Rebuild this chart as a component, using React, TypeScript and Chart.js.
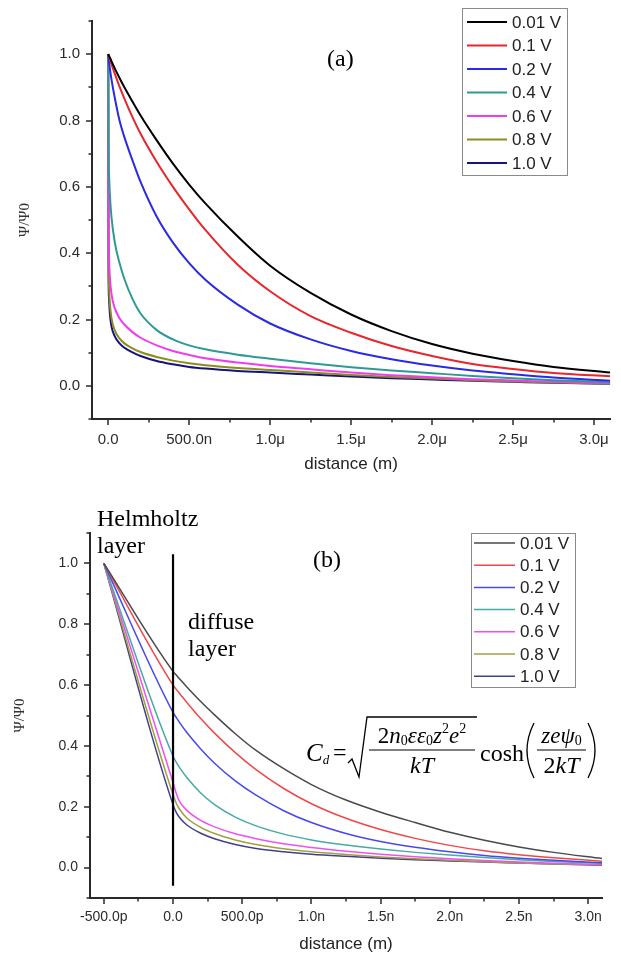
import React, { useEffect, useRef } from 'react';
import { Chart, registerables } from 'chart.js';

Chart.register(...registerables);

const seriesLabels = ['0.01 V', '0.1 V', '0.2 V', '0.4 V', '0.6 V', '0.8 V', '1.0 V'];
const colorsA = ['#000000', '#e8262b', '#2a2ae6', '#2e9a94', '#f03cf0', '#8c8c22', '#14147a'];
const colorsB = ['#4a4a4a', '#f04848', '#4848f0', '#48aaa4', '#f050f0', '#a0a040', '#40408c'];

// ---- Panel (a): distance in micrometres ----
const distanceA = [0, 0.002, 0.005, 0.01, 0.02, 0.04, 0.07, 0.1, 0.15, 0.2, 0.3, 0.4, 0.5, 0.6, 0.8, 1.0, 1.25, 1.5, 1.75, 2.0, 2.25, 2.5, 2.75, 3.1];
const psiA_001 = [1, 0.998, 0.995, 0.99, 0.979, 0.958, 0.928, 0.9, 0.857, 0.815, 0.74, 0.67, 0.607, 0.55, 0.45, 0.362, 0.28, 0.215, 0.165, 0.126, 0.097, 0.075, 0.057, 0.04];
const psiA_01 = [1, 0.997, 0.992, 0.985, 0.97, 0.942, 0.902, 0.866, 0.81, 0.76, 0.675, 0.6, 0.532, 0.47, 0.365, 0.285, 0.21, 0.16, 0.12, 0.09, 0.066, 0.051, 0.039, 0.029];
const psiA_02 = [1, 0.99, 0.976, 0.958, 0.925, 0.87, 0.8, 0.75, 0.68, 0.615, 0.51, 0.432, 0.37, 0.32, 0.245, 0.188, 0.14, 0.105, 0.08, 0.061, 0.046, 0.035, 0.025, 0.015];
const psiA_04 = [1, 0.7, 0.64, 0.58, 0.51, 0.435, 0.37, 0.322, 0.262, 0.218, 0.168, 0.14, 0.122, 0.11, 0.094, 0.082, 0.068, 0.056, 0.046, 0.038, 0.03, 0.023, 0.017, 0.011];
const psiA_06 = [1, 0.5, 0.39, 0.33, 0.278, 0.235, 0.204, 0.185, 0.162, 0.145, 0.122, 0.105, 0.093, 0.083, 0.07, 0.06, 0.05, 0.04, 0.032, 0.026, 0.02, 0.016, 0.012, 0.008];
const psiA_08 = [1, 0.4, 0.3, 0.25, 0.205, 0.168, 0.143, 0.128, 0.113, 0.102, 0.087, 0.076, 0.068, 0.062, 0.054, 0.048, 0.04, 0.033, 0.027, 0.022, 0.017, 0.013, 0.01, 0.007];
const psiA_10 = [1, 0.35, 0.265, 0.22, 0.18, 0.15, 0.128, 0.115, 0.101, 0.09, 0.075, 0.065, 0.057, 0.052, 0.045, 0.04, 0.034, 0.028, 0.023, 0.019, 0.015, 0.012, 0.009, 0.006];

const xMajorA = [0, 0.5, 1.0, 1.5, 2.0, 2.5, 3.0];
const xTickLabelsA = ['0.0', '500.0n', '1.0μ', '1.5μ', '2.0μ', '2.5μ', '3.0μ'];
const xMinorA = [0.25, 0.75, 1.25, 1.75, 2.25, 2.75];

// ---- Panel (b): distance in nanometres ----
const distanceB = [-0.5, 0, 0.025, 0.05, 0.1, 0.2, 0.3, 0.45, 0.6, 0.8, 1.0, 1.25, 1.5, 1.75, 2.0, 2.25, 2.5, 2.75, 3.1];
const psiB_001 = [1, 0.645, 0.632, 0.619, 0.594, 0.546, 0.502, 0.44, 0.385, 0.325, 0.273, 0.222, 0.182, 0.148, 0.116, 0.09, 0.068, 0.05, 0.03];
const psiB_01 = [1, 0.6, 0.585, 0.571, 0.543, 0.49, 0.442, 0.378, 0.322, 0.26, 0.21, 0.162, 0.125, 0.096, 0.073, 0.055, 0.042, 0.032, 0.021];
const psiB_02 = [1, 0.51, 0.492, 0.475, 0.444, 0.39, 0.343, 0.285, 0.238, 0.187, 0.148, 0.112, 0.086, 0.067, 0.052, 0.04, 0.031, 0.024, 0.016];
const psiB_04 = [1, 0.366, 0.345, 0.327, 0.296, 0.245, 0.207, 0.166, 0.137, 0.11, 0.091, 0.074, 0.061, 0.05, 0.041, 0.033, 0.026, 0.02, 0.014];
const psiB_06 = [1, 0.28, 0.242, 0.215, 0.188, 0.155, 0.134, 0.111, 0.095, 0.078, 0.066, 0.054, 0.044, 0.036, 0.029, 0.023, 0.018, 0.014, 0.01];
const psiB_08 = [1, 0.24, 0.21, 0.19, 0.163, 0.132, 0.112, 0.091, 0.076, 0.062, 0.052, 0.043, 0.035, 0.029, 0.024, 0.019, 0.015, 0.012, 0.009];
const psiB_10 = [1, 0.207, 0.18, 0.163, 0.14, 0.113, 0.095, 0.076, 0.063, 0.052, 0.044, 0.037, 0.031, 0.026, 0.022, 0.018, 0.015, 0.012, 0.008];

const xMajorB = [-0.5, 0, 0.5, 1.0, 1.5, 2.0, 2.5, 3.0];
const xTickLabelsB = ['-500.0p', '0.0', '500.0p', '1.0n', '1.5n', '2.0n', '2.5n', '3.0n'];
const xMinorB = [-0.25, 0.25, 0.75, 1.25, 1.75, 2.25, 2.75];

// Helmholtz / diffuse boundary line
const boundaryX = [0, 0];
const boundaryY = [-0.06, 1.03];

const yMajor = [0, 0.2, 0.4, 0.6, 0.8, 1.0];
const yTickLabels = ['0.0', '0.2', '0.4', '0.6', '0.8', '1.0'];
const yMinor = [-0.1, 0.1, 0.3, 0.5, 0.7, 0.9, 1.1];

const seriesA = [psiA_001, psiA_01, psiA_02, psiA_04, psiA_06, psiA_08, psiA_10];
const seriesB = [psiB_001, psiB_01, psiB_02, psiB_04, psiB_06, psiB_08, psiB_10];

const SANS = '"Liberation Sans", Arial, sans-serif';
const SERIF = '"Liberation Serif", "Times New Roman", serif';
const AXIS_COLOR = '#2a2a2a';

function tickMarksPlugin(xMajor: number[], xMinor: number[]) {
  return {
    id: 'tickMarks',
    afterDraw(chart: any) {
      const { ctx, chartArea: ca } = chart;
      const xs = chart.scales.x;
      const ys = chart.scales.y;
      ctx.save();
      ctx.strokeStyle = AXIS_COLOR;
      ctx.lineWidth = 1.5;
      ctx.beginPath();
      const major = 6;
      const minor = 3.5;
      xMajor.forEach((v) => {
        const p = Math.round(xs.getPixelForValue(v));
        ctx.moveTo(p, ca.bottom);
        ctx.lineTo(p, ca.bottom + major);
      });
      xMinor.forEach((v) => {
        const p = Math.round(xs.getPixelForValue(v));
        ctx.moveTo(p, ca.bottom);
        ctx.lineTo(p, ca.bottom + minor);
      });
      yMajor.forEach((v) => {
        const p = Math.round(ys.getPixelForValue(v));
        ctx.moveTo(ca.left, p);
        ctx.lineTo(ca.left - major, p);
      });
      yMinor.forEach((v) => {
        const p = Math.round(ys.getPixelForValue(v));
        ctx.moveTo(ca.left, p);
        ctx.lineTo(ca.left - minor, p);
      });
      ctx.stroke();
      ctx.restore();
    },
  };
}

function legendPlugin(box: { x: number; y: number; w: number; h: number; row0: number; gap: number; s0: number; s1: number; tx: number; lw: number }) {
  return {
    id: 'customLegend',
    afterDraw(chart: any) {
      const { ctx } = chart;
      ctx.save();
      ctx.fillStyle = '#ffffff';
      ctx.fillRect(box.x, box.y, box.w, box.h);
      ctx.strokeStyle = '#8a8a8a';
      ctx.lineWidth = 1;
      ctx.strokeRect(box.x + 0.5, box.y + 0.5, box.w, box.h);
      ctx.font = `17px ${SANS}`;
      ctx.textBaseline = 'middle';
      ctx.textAlign = 'left';
      const items = chart.data.datasets.filter((d: any) => seriesLabels.includes(d.label));
      items.forEach((d: any, i: number) => {
        const y = box.y + box.row0 + i * box.gap;
        ctx.strokeStyle = d.borderColor;
        ctx.lineWidth = box.lw;
        ctx.beginPath();
        ctx.moveTo(box.s0, y);
        ctx.lineTo(box.s1, y);
        ctx.stroke();
        ctx.fillStyle = '#222';
        ctx.fillText(d.label, box.tx, y + 1);
      });
      ctx.restore();
    },
  };
}

type Part = { t: string; italic?: boolean; size: number; dy?: number };

function runWidth(ctx: CanvasRenderingContext2D, parts: Part[]) {
  let w = 0;
  parts.forEach((p) => {
    ctx.font = `${p.italic ? 'italic ' : ''}${p.size}px ${SERIF}`;
    w += ctx.measureText(p.t).width;
  });
  return w;
}

function drawRun(ctx: CanvasRenderingContext2D, parts: Part[], x: number, y: number, center = false) {
  let cx = center ? x - runWidth(ctx, parts) / 2 : x;
  ctx.textAlign = 'left';
  ctx.textBaseline = 'alphabetic';
  parts.forEach((p) => {
    ctx.font = `${p.italic ? 'italic ' : ''}${p.size}px ${SERIF}`;
    ctx.fillText(p.t, cx, y + (p.dy || 0));
    cx += ctx.measureText(p.t).width;
  });
}

const annotationsA = {
  id: 'annotA',
  afterDraw(chart: any) {
    const { ctx } = chart;
    ctx.save();
    ctx.fillStyle = '#000';
    drawRun(ctx, [{ t: '(a)', size: 24 }], 327, 66);
    ctx.restore();
  },
};

const annotationsB = {
  id: 'annotB',
  afterDraw(chart: any) {
    const { ctx } = chart;
    ctx.save();
    ctx.fillStyle = '#000';
    ctx.strokeStyle = '#000';
    drawRun(ctx, [{ t: 'Helmholtz', size: 24 }], 97, 46);
    drawRun(ctx, [{ t: 'layer', size: 24 }], 97, 73);
    drawRun(ctx, [{ t: 'diffuse', size: 24 }], 188, 149);
    drawRun(ctx, [{ t: 'layer', size: 24 }], 188, 176);
    drawRun(ctx, [{ t: '(b)', size: 24 }], 313, 87);

    // formula
    drawRun(ctx, [{ t: 'C', italic: true, size: 25 }, { t: 'd', italic: true, size: 13, dy: 3 }], 306, 281);
    drawRun(ctx, [{ t: '=', size: 24 }], 333, 280);
    ctx.lineWidth = 1.3;
    ctx.beginPath();
    ctx.moveTo(348, 283);
    ctx.lineTo(352, 279);
    ctx.lineTo(359, 297);
    ctx.lineTo(367, 237);
    ctx.lineTo(477, 237);
    ctx.stroke();
    drawRun(
      ctx,
      [
        { t: '2', size: 23 },
        { t: 'n', italic: true, size: 23 },
        { t: '0', size: 14, dy: 2 },
        { t: 'εε', italic: true, size: 23 },
        { t: '0', size: 14, dy: 2 },
        { t: 'z', italic: true, size: 23 },
        { t: '2', size: 14, dy: -10 },
        { t: 'e', italic: true, size: 23 },
        { t: '2', size: 14, dy: -10 },
      ],
      422,
      263,
      true
    );
    ctx.lineWidth = 1.2;
    ctx.beginPath();
    ctx.moveTo(369, 270);
    ctx.lineTo(475, 270);
    ctx.moveTo(537, 270);
    ctx.lineTo(586, 270);
    ctx.stroke();
    drawRun(ctx, [{ t: 'kT', italic: true, size: 24 }], 422, 293, true);
    drawRun(ctx, [{ t: 'cosh', size: 24 }], 480, 281);
    ctx.lineWidth = 1.3;
    ctx.beginPath();
    ctx.moveTo(534, 243);
    ctx.quadraticCurveTo(520, 270.5, 534, 298);
    ctx.moveTo(588, 243);
    ctx.quadraticCurveTo(602, 270.5, 588, 298);
    ctx.stroke();
    drawRun(
      ctx,
      [
        { t: 'ze', italic: true, size: 23 },
        { t: 'ψ', italic: true, size: 23 },
        { t: '0', size: 14, dy: 2 },
      ],
      561.5,
      263,
      true
    );
    drawRun(ctx, [{ t: '2', size: 24 }, { t: 'kT', italic: true, size: 24 }], 561.5, 293, true);
    ctx.restore();
  },
};

function makeConfig(opts: {
  distance: number[];
  series: number[][];
  colors: string[];
  lineWidth: number;
  xMin: number;
  xMax: number;
  xMajor: number[];
  xLabels: string[];
  xMinor: number[];
  padding: { left: number; right: number; top: number; bottom: number };
  yWidth: number;
  xHeight: number;
  tickFont: number;
  xTickPad: number;
  yTitlePad: number;
  extraDatasets: any[];
  plugins: any[];
}) {
  const datasets: any[] = opts.series.map((vals, i) => ({
    label: seriesLabels[i],
    data: opts.distance.map((x, j) => ({ x, y: vals[j] })),
    borderColor: opts.colors[i],
    backgroundColor: opts.colors[i],
    borderWidth: opts.lineWidth,
    pointRadius: 0,
    cubicInterpolationMode: 'monotone',
    fill: false,
  }));
  return {
    type: 'line',
    data: { datasets: [...opts.extraDatasets, ...datasets] },
    options: {
      animation: false,
      responsive: false,
      devicePixelRatio: 1,
      events: [],
      layout: { padding: opts.padding, autoPadding: false },
      plugins: { legend: { display: false }, tooltip: { enabled: false }, title: { display: false } },
      scales: {
        x: {
          type: 'linear',
          min: opts.xMin,
          max: opts.xMax,
          afterBuildTicks: (scale: any) => {
            scale.ticks = opts.xMajor.map((v) => ({ value: v }));
          },
          afterFit: (scale: any) => {
            scale.height = opts.xHeight;
          },
          grid: { display: false, drawTicks: false },
          border: { display: true, color: AXIS_COLOR, width: 2 },
          ticks: {
            autoSkip: false,
            maxRotation: 0,
            minRotation: 0,
            padding: opts.xTickPad,
            color: '#2b2b2b',
            font: { family: SANS, size: opts.tickFont },
            callback: (_v: any, i: number) => opts.xLabels[i],
          },
          title: {
            display: true,
            text: 'distance (m)',
            color: '#222',
            font: { family: SANS, size: 17 },
            padding: { top: 0, bottom: 0 },
          },
        },
        y: {
          type: 'linear',
          min: -0.1,
          max: 1.1,
          afterBuildTicks: (scale: any) => {
            scale.ticks = yMajor.map((v) => ({ value: v }));
          },
          afterFit: (scale: any) => {
            scale.width = opts.yWidth;
          },
          grid: { display: false, drawTicks: false },
          border: { display: true, color: AXIS_COLOR, width: 2 },
          ticks: {
            autoSkip: false,
            padding: 12,
            color: '#2b2b2b',
            font: { family: SANS, size: opts.tickFont },
            callback: (_v: any, i: number) => yTickLabels[i],
          },
          title: {
            display: true,
            text: 'Ψ/Ψ0',
            color: '#333',
            font: { family: SERIF, size: 15 },
            padding: { top: opts.yTitlePad, bottom: 0 },
          },
        },
      },
    },
    plugins: opts.plugins,
  };
}

export default function App() {
  const refA = useRef<HTMLCanvasElement>(null);
  const refB = useRef<HTMLCanvasElement>(null);

  useEffect(() => {
    const cfgA = makeConfig({
      distance: distanceA,
      series: seriesA,
      colors: colorsA,
      lineWidth: 2,
      xMin: -0.1,
      xMax: 3.1,
      xMajor: xMajorA,
      xLabels: xTickLabelsA,
      xMinor: xMinorA,
      padding: { left: 0, right: 8, top: 10, bottom: 5 },
      yWidth: 92,
      xHeight: 56,
      tickFont: 15,
      xTickPad: 12,
      yTitlePad: 16,
      extraDatasets: [],
      plugins: [
        tickMarksPlugin(xMajorA, xMinorA),
        legendPlugin({ x: 462, y: 8, w: 105, h: 167, row0: 14, gap: 23.5, s0: 467, s1: 507, tx: 512, lw: 2 }),
        annotationsA,
      ],
    });
    const cfgB = makeConfig({
      distance: distanceB,
      series: seriesB,
      colors: colorsB,
      lineWidth: 1.5,
      xMin: -0.6,
      xMax: 3.1,
      xMajor: xMajorB,
      xLabels: xTickLabelsB,
      xMinor: xMinorB,
      padding: { left: 0, right: 19, top: 53, bottom: 4 },
      yWidth: 90,
      xHeight: 57,
      tickFont: 14,
      xTickPad: 11,
      yTitlePad: 11,
      extraDatasets: [
        {
          label: 'boundary',
          data: boundaryX.map((x, j) => ({ x, y: boundaryY[j] })),
          borderColor: '#000000',
          borderWidth: 2.2,
          pointRadius: 0,
          fill: false,
        },
      ],
      plugins: [
        tickMarksPlugin(xMajorB, xMinorB),
        legendPlugin({ x: 471, y: 53, w: 104, h: 154, row0: 10, gap: 22.2, s0: 474, s1: 515, tx: 520, lw: 1.5 }),
        annotationsB,
      ],
    });
    const a = new Chart(refA.current as HTMLCanvasElement, cfgA as any);
    const b = new Chart(refB.current as HTMLCanvasElement, cfgB as any);
    return () => {
      a.destroy();
      b.destroy();
    };
  }, []);

  return (
    <div style={{ position: 'absolute', left: 0, top: 0, width: 621, height: 959, background: '#ffffff' }}>
      <canvas
        ref={refA}
        width={621}
        height={480}
        style={{ position: 'absolute', left: 0, top: 0, width: 621, height: 480, display: 'block' }}
      />
      <canvas
        ref={refB}
        width={621}
        height={479}
        style={{ position: 'absolute', left: 0, top: 480, width: 621, height: 479, display: 'block' }}
      />
    </div>
  );
}
